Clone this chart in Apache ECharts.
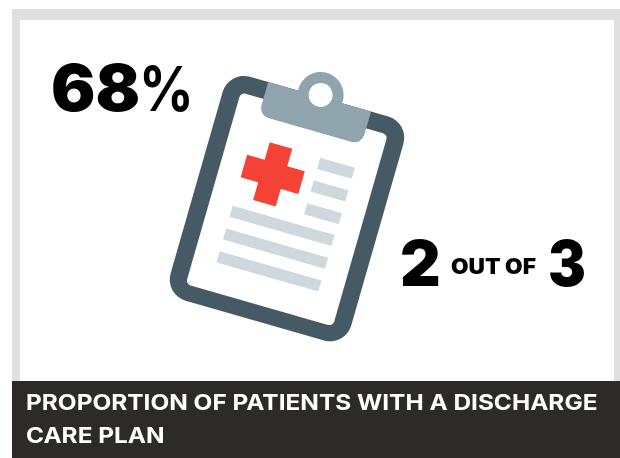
<!DOCTYPE html>
<html>
<head>
<meta charset="utf-8">
<style>html,body{margin:0;padding:0;background:#fff}#chart{width:620px;height:458px}</style>
<script src="https://cdn.jsdelivr.net/npm/echarts@6/dist/echarts.min.js"></script>
</head>
<body>
<div id="chart"></div>
<script>
// Headline figures
const sharePercent = 68;
const outOfCount = 2;
const outOfTotal = 3;
const connective = 'OUT OF';
const captionLines = ['PROPORTION OF PATIENTS WITH A DISCHARGE', 'CARE PLAN'];

const FONT = 'Inter, "Open Sans", sans-serif';
const chart = echarts.init(document.getElementById('chart'), null, { renderer: 'canvas' });

const bar = (x, y, w, h) => ({ type: 'rect', shape: { x: x - w / 2, y: y - h / 2, width: w, height: h }, style: { fill: '#cfd8dc' } });

// Clipboard icon, drawn around its own centre and tilted as one group
const clipboard = {
  type: 'group', x: 287, y: 208.6, rotation: -16 * Math.PI / 180,
  children: [
    { type: 'rect', shape: { x: -94, y: -116.5, width: 188, height: 233, r: 22 }, style: { fill: '#455a64' } },
    { type: 'rect', shape: { x: -76.5, y: -99, width: 153, height: 199.5, r: 5 }, style: { fill: '#ffffff' } },
    { type: 'circle', shape: { cx: 1, cy: -118.5, r: 23 }, style: { fill: '#90a4ae' } },
    { type: 'rect', shape: { x: -53, y: -116.5, width: 107, height: 34.5, r: [0, 0, 10, 10] }, style: { fill: '#90a4ae' } },
    { type: 'circle', shape: { cx: 1, cy: -118.5, r: 12 }, style: { fill: '#ffffff' } },
    { type: 'rect', shape: { x: -53.2, y: -40.75, width: 60, height: 23.5 }, style: { fill: '#f44336' } },
    { type: 'rect', shape: { x: -34.95, y: -59, width: 23.5, height: 60 }, style: { fill: '#f44336' } },
    bar(36, -52.2, 36, 11.5), bar(36, -28.7, 36, 11.5), bar(36, -5, 36, 11.5),
    bar(0, 18, 106, 11.5), bar(0, 41.7, 106, 11.5), bar(0, 65.4, 106, 11.5)
  ]
};

// Text stretched horizontally to sit at the wider set width of the layout
const label = (text, x, y, size, weight, fill, scaleX) => ({
  type: 'text', x, y, scaleX: scaleX || 1,
  style: { text, font: `${weight} ${size}px ${FONT}`, fill: fill || '#000', textAlign: 'left', textVerticalAlign: 'middle' }
});

chart.setOption({
  animation: false,
  graphic: { elements: [
    { type: 'rect', shape: { x: 12, y: 9, width: 608, height: 449 }, style: { fill: '#e0e0e0' } },
    { type: 'rect', shape: { x: 20, y: 20, width: 594, height: 438 }, style: { fill: '#ffffff' } },
    clipboard,
    label(String(sharePercent), 51, 92, 64, 900, '#000', 1.03),
    label('%', 139, 92, 62, 700, '#000', 0.87),
    label(String(outOfCount), 400, 267, 63, 900),
    label(connective, 451, 268, 21, 900, '#000', 1.08),
    label(String(outOfTotal), 548, 267, 63, 900, '#000', 0.9),
    { type: 'rect', shape: { x: 12, y: 381, width: 608, height: 77 }, style: { fill: '#2d2a29' } },
    label(captionLines[0], 26, 404, 21.5, 700, '#ffffff', 1.135),
    label(captionLines[1], 26, 437, 21.5, 700, '#ffffff', 1.135)
  ] }
});
</script>
</body>
</html>
